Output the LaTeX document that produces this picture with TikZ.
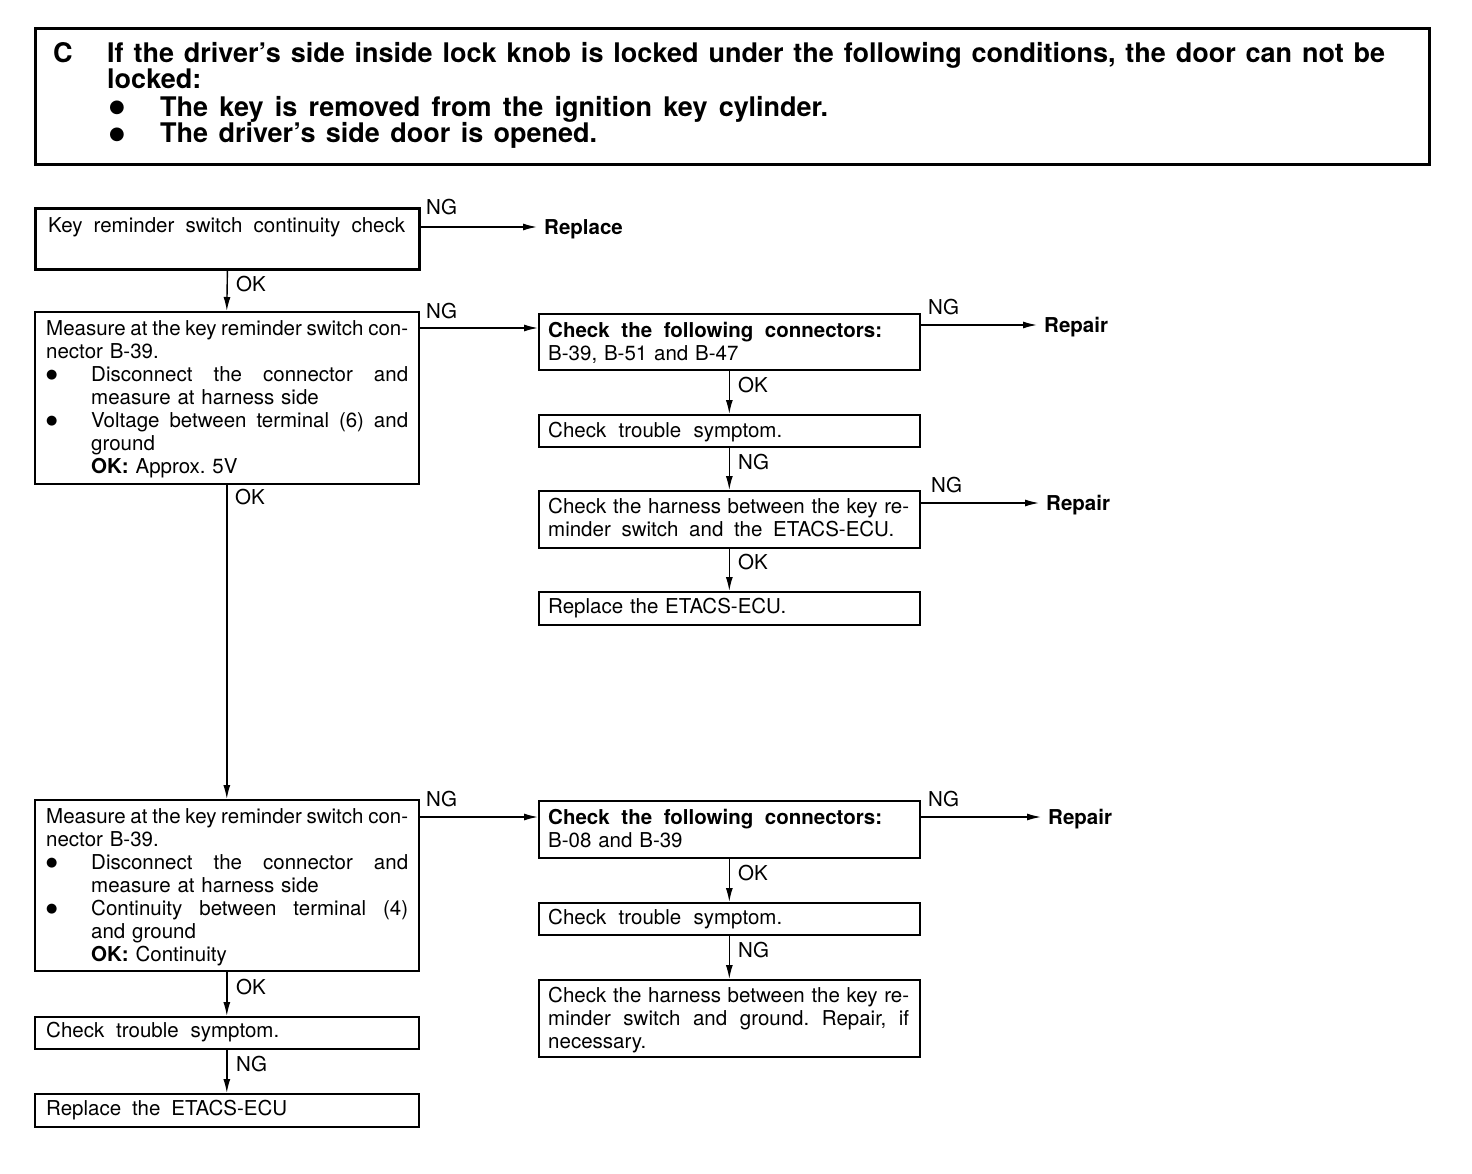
\documentclass[tikz,border=0pt]{standalone}
\usepackage{fontspec}
\setmainfont{TeX Gyre Heros}
\newfontfamily\dejavu{DejaVu Sans}
\usetikzlibrary{arrows.meta}
\newcommand{\bul}{\raisebox{3pt}{\dejavu\fontsize{13}{13}\selectfont ●}}
\newcommand{\hbul}{\raisebox{3.5pt}{\dejavu\fontsize{18}{18}\selectfont ●}}
\newcommand{\jl}[2]{\leavevmode\hbox to #1{\spaceskip=0.278em plus 1fil minus 0.09em\xspaceskip=\spaceskip #2}}
\newcommand{\st}{\rule{0pt}{15pt}}
\frenchspacing
\begin{document}
\begin{tikzpicture}[x=1pt,y=-1pt,
  box/.style={draw, line width=1.6pt, inner sep=0pt, anchor=north west},
  thickbox/.style={box, line width=2.8pt},
  txt/.style={inner sep=0pt, anchor=north west, align=left, font=\fontsize{20.5}{23}\selectfont},
  htxt/.style={inner sep=0pt, anchor=north west, align=left, font=\fontsize{27}{26.5}\selectfont\bfseries},
  lbl/.style={inner sep=0pt, anchor=base west, font=\fontsize{20.5}{23}\selectfont},
  res/.style={inner xsep=7pt, inner ysep=0pt, anchor=base west, font=\fontsize{20.5}{23}\selectfont\bfseries},
  arr/.style={line width=1.4pt, -{Latex[length=14pt,width=7pt]}}
]
\useasboundingbox (0,0) rectangle (1472,1174);
\fill[white] (0,0) rectangle (1472,1174);

% header
\node[box, line width=2.6pt, minimum width=1394pt, minimum height=136pt] (hdr) at (34,27) {};
\node[htxt] (hc) at (53,42) {\rule{0pt}{20pt}C};
\node[htxt, text width=1280pt] (h1) at (107,42) {\rule{0pt}{20pt}\jl{1278pt}{If the driver’s side inside lock knob is locked under the following conditions, the door can not be}\\locked:};
\node[htxt, text width=1280pt] (h2) at (107,96) {\rule{0pt}{20pt}\makebox[53pt][l]{\hspace{2pt}\hbul}\jl{668pt}{The key is removed from the ignition key cylinder.}\\
\makebox[53pt][l]{\hspace{2pt}\hbul}\jl{437pt}{The driver’s side door is opened.}};

% boxes
\node[thickbox, minimum width=384pt, minimum height=61pt] (b1) at (34,207) {};
\node[box, minimum width=384pt, minimum height=172pt] (b2) at (34,311) {};
\node[box, minimum width=381pt, minimum height=56pt] (b3) at (538,313) {};
\node[box, minimum width=381pt, minimum height=32pt] (b4) at (538,414) {};
\node[box, minimum width=381pt, minimum height=57pt] (b5) at (538,490) {};
\node[box, minimum width=381pt, minimum height=33pt] (b6) at (538,591) {};
\node[box, minimum width=384pt, minimum height=171pt] (b7) at (34,799) {};
\node[box, minimum width=381pt, minimum height=57pt] (b8) at (538,800) {};
\node[box, minimum width=381pt, minimum height=32pt] (b9) at (538,902) {};
\node[box, minimum width=381pt, minimum height=77pt] (b10) at (538,979) {};
\node[box, minimum width=384pt, minimum height=32pt] (b11) at (34,1016) {};
\node[box, minimum width=384pt, minimum height=33pt] (b12) at (34,1093) {};

% box texts
\node[txt, text width=357pt] (t1) at (48,217) {\st\jl{357pt}{Key reminder switch continuity check}};
\node[txt, text width=362pt] (t2) at (46,320) {\st\jl{362pt}{Measure at the key reminder switch con-}\\
nector B-39.\\
\makebox[45pt][l]{\bul}\jl{317pt}{Disconnect the connector and}\\
\hspace*{45pt}measure at harness side\\
\makebox[45pt][l]{\bul}\jl{317pt}{Voltage between terminal (6) and}\\
\hspace*{45pt}ground\\
\hspace*{45pt}\textbf{OK:} Approx. 5V};
\node[txt, text width=361pt] (t3) at (548,322) {\st\textbf{\jl{334pt}{Check the following connectors:}}\\B-39, B-51 and B-47};
\node[txt, text width=361pt] (t4) at (548,422) {\st\jl{234pt}{Check trouble symptom.}};
\node[txt, text width=361pt] (t5) at (548,498) {\st\jl{361pt}{Check the harness between the key re-}\\\jl{346pt}{minder switch and the ETACS-ECU.}};
\node[txt, text width=361pt] (t6) at (548,598) {\st Replace the ETACS-ECU.};
\node[txt, text width=362pt] (t7) at (46,808) {\st\jl{362pt}{Measure at the key reminder switch con-}\\
nector B-39.\\
\makebox[45pt][l]{\bul}\jl{317pt}{Disconnect the connector and}\\
\hspace*{45pt}measure at harness side\\
\makebox[45pt][l]{\bul}\jl{317pt}{Continuity between terminal (4)}\\
\hspace*{45pt}and ground\\
\hspace*{45pt}\textbf{OK:} Continuity};
\node[txt, text width=361pt] (t8) at (548,809) {\st\textbf{\jl{334pt}{Check the following connectors:}}\\B-08 and B-39};
\node[txt, text width=361pt] (t9) at (548,909) {\st\jl{234pt}{Check trouble symptom.}};
\node[txt, text width=361pt] (t10) at (548,987) {\st\jl{361pt}{Check the harness between the key re-}\\\jl{361pt}{minder switch and ground. Repair, if}\\necessary.};
\node[txt, text width=362pt] (t11) at (46,1022) {\st\jl{233pt}{Check trouble symptom.}};
\node[txt, text width=362pt] (t12) at (46,1100) {\st\jl{241pt}{Replace the ETACS-ECU}};

% result texts
\node[res] (rep0) at (537,235) {Replace};
\node[res] (rp1) at (1037,332) {Repair};
\node[res] (rp2) at (1039,510) {Repair};
\node[res] (rp3) at (1041,824) {Repair};

% arrow heights
\coordinate (y1) at (0,227);
\coordinate (y2) at (0,328);
\coordinate (y3) at (0,325);
\coordinate (y4) at (0,503);
\coordinate (y5) at (0,817);
\coordinate (y6) at (0,817);

% connectors
\draw[arr] (b1.east |- y1) -- (rep0.west |- y1);
\draw[arr] (b2.east |- y2) -- (b3.west |- y2);
\draw[arr] (b3.east |- y3) -- (rp1.west |- y3);
\draw[arr] (b5.east |- y4) -- (rp2.west |- y4);
\draw[arr] (b7.east |- y5) -- (b8.west |- y5);
\draw[arr] (b8.east |- y6) -- (rp3.west |- y6);
\draw[arr] (b1.south) -- (b2.north);
\draw[arr] (b2.south) -- (b7.north);
\draw[arr] (b7.south) -- (b11.north);
\draw[arr] (b11.south) -- (b12.north);
\draw[arr] (b3.south) -- (b4.north);
\draw[arr] (b4.south) -- (b5.north);
\draw[arr] (b5.south) -- (b6.north);
\draw[arr] (b8.south) -- (b9.north);
\draw[arr] (b9.south) -- (b10.north);

% labels
\node[lbl] (n1) at (426,215) {NG};
\node[lbl] (n2) at (426,318) {NG};
\node[lbl] (n3) at (928,314) {NG};
\node[lbl] (n4) at (931,492) {NG};
\node[lbl] (n5) at (426,806) {NG};
\node[lbl] (n6) at (928,806) {NG};
\node[lbl] (o1) at (236,291) {OK};
\node[lbl] (o2) at (235,504) {OK};
\node[lbl] (o3) at (738,392) {OK};
\node[lbl] (n7) at (738,469) {NG};
\node[lbl] (o4) at (738,569) {OK};
\node[lbl] (o5) at (738,880) {OK};
\node[lbl] (n8) at (738,957) {NG};
\node[lbl] (o6) at (236,994) {OK};
\node[lbl] (n9) at (236,1071) {NG};
\end{tikzpicture}
\end{document}
